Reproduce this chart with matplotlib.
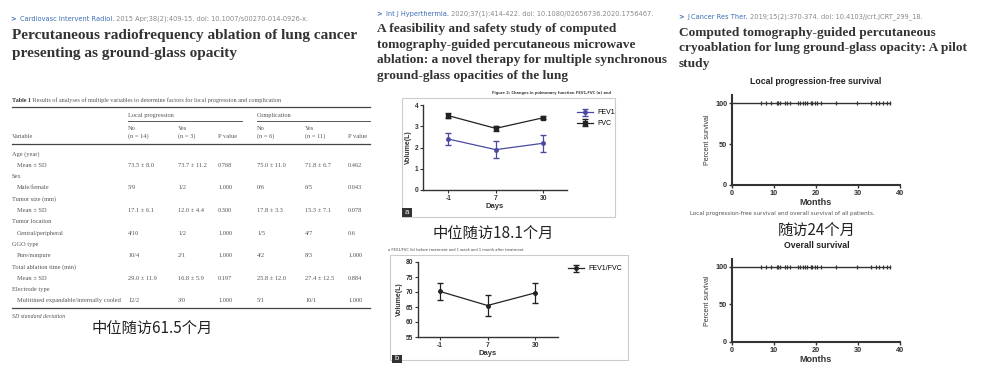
import numpy as np
import matplotlib.pyplot as plt

# page layout is in pixels of the 985x382 picture
W, H = 985, 382

# ---- data ----
journal1 = ('Cardiovasc Intervent Radiol.', ' 2015 Apr;38(2):409-15. doi: 10.1007/s00270-014-0926-x.')
journal2 = ('Int J Hyperthermia.', ' 2020;37(1):414-422. doi: 10.1080/02656736.2020.1756467.')
journal3 = ('J Cancer Res Ther.', ' 2019;15(2):370-374. doi: 10.4103/jcrt.JCRT_299_18.')
title1 = ['Percutaneous radiofrequency ablation of lung cancer',
          'presenting as ground-glass opacity']
title2 = ['A feasibility and safety study of computed',
          'tomography-guided percutaneous microwave',
          'ablation: a novel therapy for multiple synchronous',
          'ground-glass opacities of the lung']
title3 = ['Computed tomography-guided percutaneous',
          'cryoablation for lung ground-glass opacity: A pilot',
          'study']
followup = ['中位随访61.5个月', '中位随访18.1个月', '随访24个月']

table_caption = 'Results of analyses of multiple variables to determine factors for local progression and complication'
table_groups = ['Local progression', 'Complication']
table_heads = ['No\n(n = 14)', 'Yes\n(n = 3)', 'P value', 'No\n(n = 6)', 'Yes\n(n = 11)', 'P value']
table_rows = [
    ('Age (year)', None),
    ('Mean ± SD', ['73.5 ± 8.0', '73.7 ± 11.2', '0.768', '75.0 ± 11.0', '71.8 ± 6.7', '0.462']),
    ('Sex', None),
    ('Male/female', ['5/9', '1/2', '1.000', '0/6', '6/5', '0.043']),
    ('Tumor size (mm)', None),
    ('Mean ± SD', ['17.1 ± 6.1', '12.0 ± 4.4', '0.300', '17.8 ± 3.3', '15.3 ± 7.1', '0.078']),
    ('Tumor location', None),
    ('Central/peripheral', ['4/10', '1/2', '1.000', '1/5', '4/7', '0.6']),
    ('GGO type', None),
    ('Pure/nonpure', ['10/4', '2/1', '1.000', '4/2', '8/3', '1.000']),
    ('Total ablation time (min)', None),
    ('Mean ± SD', ['29.0 ± 11.9', '16.8 ± 5.9', '0.197', '25.8 ± 12.0', '27.4 ± 12.5', '0.884']),
    ('Electrode type', None),
    ('Multitined expandable/internally cooled', ['12/2', '3/0', '1.000', '5/1', '10/1', '1.000']),
]

days = ['-1', '7', '30']
fev1 = [2.4, 1.9, 2.2]
fev1_err = [0.3, 0.4, 0.4]
fvc = [3.5, 2.9, 3.4]
fvc_err = [0.12, 0.1, 0.08]
ratio = [70.2, 65.5, 69.7]
ratio_err = [2.7, 3.6, 3.4]

censor_months = [6.8, 8.2, 9.2, 10.6, 10.9, 11.4, 12.5, 13.1, 13.8, 15.6, 16.2, 16.9,
                 17.3, 17.8, 18.8, 19.1, 19.7, 20.3, 21.2, 24.7, 29.8, 33.2, 34.2,
                 35.1, 36.0, 36.9, 37.6]
surv_end = 37.6

# ---- figure ----
fig = plt.figure(figsize=(W / 100, H / 100), dpi=100)
bg = fig.add_axes([0, 0, 1, 1])
bg.set_xlim(0, W)
bg.set_ylim(H, 0)
bg.axis('off')

serif = 'Liberation Serif'
sans = 'Liberation Sans'
cjk = ['Noto Sans CJK SC', 'DejaVu Sans']
dark = '#333333'
blue = '#3a6db5'
grey = '#888888'


def box(l, t, r, b):
    return fig.add_axes([l / W, 1 - b / H, (r - l) / W, (b - t) / H])


def journal(x, y, parts):
    t = bg.text(x, y, '>', color=blue, fontsize=4.8, va='center', fontweight='bold')
    t = bg.annotate(parts[0], xycoords=t, xy=(1, 0.5), va='center', color=blue, fontsize=4.8,
                    xytext=(3, 0), textcoords='offset points')
    bg.annotate(parts[1], xycoords=t, xy=(1, 0.5), va='center', color=grey, fontsize=4.8)


def title(x, y0, step, lines, size):
    for i, s in enumerate(lines):
        bg.text(x, y0 + i * step, s, fontsize=size, family=serif, fontweight='bold',
                color=dark, va='center')


# ---- panel 1: table ----
journal(10, 19, journal1)
title(12, 35, 18, title1, 11)

t = bg.text(12, 100, 'Table 1', fontsize=4.4, family=serif, fontweight='bold', va='center', color=dark)
bg.annotate(' ' + table_caption, xycoords=t, xy=(1, 0.5), va='center', fontsize=4.4,
            family=serif, color='#555555')
bg.plot([12, 370], [107, 107], color='#444444', lw=0.9)
colx = [128, 178, 218, 257, 305, 348]
for gx, gr, name in [(128, 242, table_groups[0]), (257, 370, table_groups[1])]:
    bg.text(gx, 115, name, fontsize=4.6, family=serif, color='#555555', va='center')
    bg.plot([gx, gr], [121, 121], color='#555555', lw=0.7)
for x, s in zip(colx, table_heads):
    if '\n' in s:
        a, b = s.split('\n')
        bg.text(x, 128, a, fontsize=4.6, family=serif, color='#555555', va='center')
        bg.text(x, 136.5, b, fontsize=4.6, family=serif, color='#555555', va='center')
    else:
        bg.text(x, 136.5, s, fontsize=4.6, family=serif, color='#555555', va='center')
bg.text(12, 136.5, 'Variable', fontsize=4.6, family=serif, color='#555555', va='center')
bg.plot([12, 370], [144, 144], color='#444444', lw=0.9)
for i, (label, vals) in enumerate(table_rows):
    y = 154 + i * 11.3
    bg.text(12 if vals is None else 17, y, label, fontsize=4.6, family=serif,
            color='#555555', va='center')
    if vals:
        for x, v in zip(colx, vals):
            bg.text(x, y, v, fontsize=4.6, family=serif, color='#555555', va='center')
bg.plot([12, 370], [308, 308], color='#444444', lw=0.9)
bg.text(12, 317, 'SD standard deviation', fontsize=4.2, family=serif, style='italic',
        color='#555555', va='center')
bg.text(92, 328, followup[0], fontsize=11, family=cjk, color='#222222', va='center')

# ---- panel 2: pulmonary function ----
journal(376, 14, journal2)
title(377, 29, 15.6, title2, 9.6)
bg.text(552, 93, 'Figure 2: Changes in pulmonary function FEV1,FVC (a) and', fontsize=2.6,
        ha='center', va='center', color='#444444', fontweight='bold')
bg.add_patch(plt.Rectangle((402, 98), 213, 119, fill=False, ec='#cccccc', lw=0.8))
bg.add_patch(plt.Rectangle((402, 208), 10, 9, fc='#333333', ec='none'))
bg.text(407, 212.5, 'a', color='white', fontsize=5.5, ha='center', va='center', family=sans)
bg.text(433, 233, followup[1], fontsize=11, family=cjk, color='#222222', va='center')

bg.text(388, 250, 'a FEV1/FVC (b) before treatment and 1 week and 1 month after treatment',
        fontsize=2.6, va='center', color='#444444')
bg.add_patch(plt.Rectangle((390, 255), 238, 105, fill=False, ec='#cccccc', lw=0.8))
bg.add_patch(plt.Rectangle((392, 355), 10, 8, fc='#333333', ec='none'))
bg.text(397, 359, 'b', color='white', fontsize=5.5, ha='center', va='center', family=sans)

xpos = np.arange(len(days))


def gp_axes(ax, ylabel, xlabel):
    for s in ['top', 'right']:
        ax.spines[s].set_visible(False)
    for s in ['left', 'bottom']:
        ax.spines[s].set_linewidth(1.0)
        ax.spines[s].set_color('#333333')
    ax.tick_params(length=2.5, width=0.8, labelsize=4.8, pad=1, colors='#333333')
    ax.set_xticks(xpos, days)
    for lab in ax.get_xticklabels() + ax.get_yticklabels():
        lab.set_fontweight('bold')
        lab.set_family(sans)
    ax.set_ylabel(ylabel, fontsize=5, family=sans, fontweight='bold', labelpad=2, color='#333333')
    ax.set_xlabel(xlabel, fontsize=5.5, family=sans, fontweight='bold', labelpad=1, color='#333333')
    ax.patch.set_alpha(0)


axa = box(423, 105, 567, 190)
axa.errorbar(xpos, fev1, yerr=fev1_err, color='#4a4aa0', marker='o', ms=2.5, lw=0.9,
             capsize=2, elinewidth=0.9, label='FEV1')
axa.errorbar(xpos, fvc, yerr=fvc_err, color='#222222', marker='s', ms=2.8, lw=0.9,
             capsize=2, elinewidth=0.9, label='FVC')
axa.set_ylim(0, 4)
axa.set_yticks([0, 1, 2, 3, 4])
axa.set_xlim(-0.53, 2.5)
gp_axes(axa, 'Volume(L)', 'Days')
axa.legend(loc='upper left', bbox_to_anchor=(574 / W, 1 - 106 / H),
           bbox_transform=fig.transFigure, frameon=False,
           handlelength=2.2, labelspacing=0.5, borderpad=0, handletextpad=0.6,
           prop={'family': sans, 'size': 5})

axb = box(418, 262, 558, 337)
axb.errorbar(xpos, ratio, yerr=ratio_err, color='#222222', marker='o', ms=2.5, lw=0.9,
             capsize=2, elinewidth=0.9, label='FEV1/FVC')
axb.set_ylim(55, 80)
axb.set_yticks([55, 60, 65, 70, 75, 80])
axb.set_xlim(-0.46, 2.48)
gp_axes(axb, 'Volume(L)', 'Days')
axb.legend(loc='upper left', bbox_to_anchor=(565 / W, 1 - 262 / H),
           bbox_transform=fig.transFigure, frameon=False,
           handlelength=2.2, borderpad=0, handletextpad=0.6,
           prop={'family': sans, 'size': 5})

# ---- panel 3: survival ----
journal(678, 17, journal3)
title(679, 33, 15.3, title3, 9.6)
bg.text(816, 81, 'Local progression-free survival', fontsize=6.3, family=sans,
        fontweight='bold', ha='center', va='center', color='#222222')
bg.text(690, 213, 'Local progression-free survival and overall survival of all patients.',
        fontsize=4.1, va='center', color='#555555')
bg.text(778, 230, followup[2], fontsize=11, family=cjk, color='#222222', va='center')
bg.text(817, 246, 'Overall survival', fontsize=6.3, family=sans,
        fontweight='bold', ha='center', va='center', color='#222222')


def surv_axes(ax):
    ax.step([0, surv_end], [100, 100], where='post', color='#333333', lw=1.0)
    ax.plot(censor_months, [100] * len(censor_months), ls='none', marker='|',
            ms=2.5, mew=0.9, color='#333333')
    ax.set_xlim(0, 40)
    ax.set_ylim(0, 110)
    ax.set_xticks([0, 10, 20, 30, 40])
    ax.set_yticks([0, 50, 100])
    for s in ['top', 'right']:
        ax.spines[s].set_visible(False)
    for s in ['left', 'bottom']:
        ax.spines[s].set_linewidth(1.5)
        ax.spines[s].set_color('#333333')
    ax.tick_params(length=2.5, width=1.0, labelsize=5.3, pad=1, colors='#333333')
    for lab in ax.get_xticklabels() + ax.get_yticklabels():
        lab.set_fontweight('bold')
        lab.set_family(sans)
    ax.set_ylabel('Percent survival', fontsize=5, family=sans, labelpad=3, color='#333333')
    ax.set_xlabel('Months', fontsize=6.5, family=sans, fontweight='bold', labelpad=1,
                  color='#333333')
    ax.patch.set_alpha(0)


ax1 = box(732, 95, 900, 185)
surv_axes(ax1)
ax2 = box(732, 259, 900, 342)
surv_axes(ax2)

plt.savefig('out.png', dpi=100)
